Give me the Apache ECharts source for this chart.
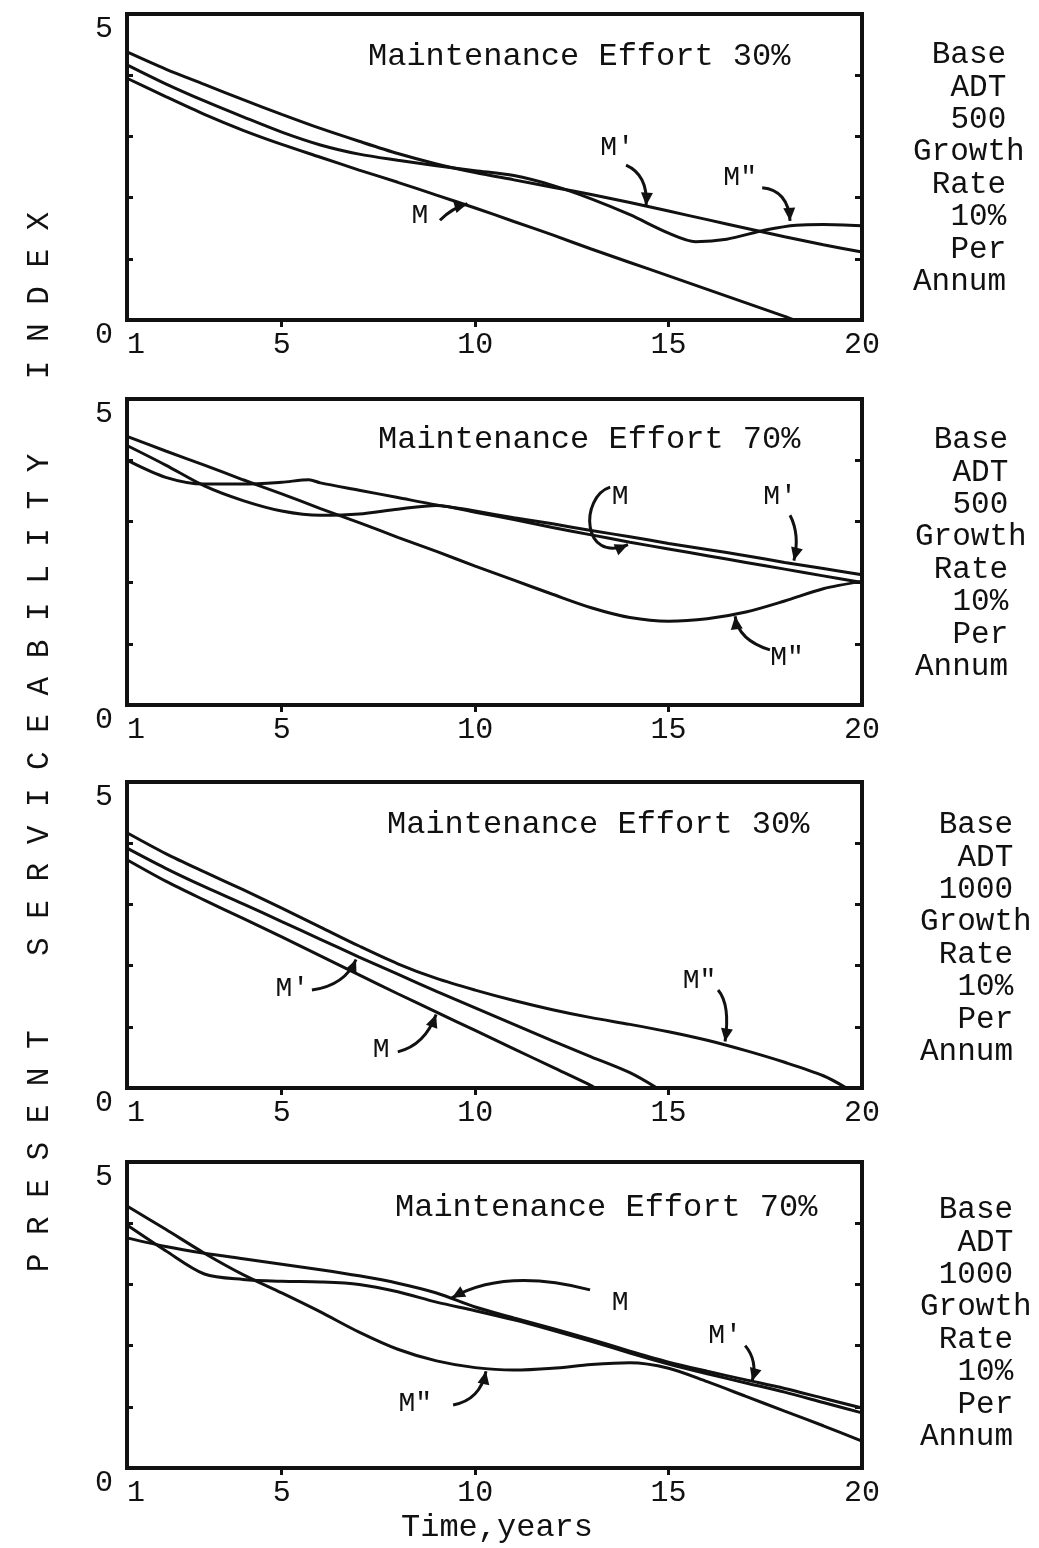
<!DOCTYPE html>
<html><head><meta charset="utf-8">
<script src="https://cdn.jsdelivr.net/npm/echarts@6/dist/echarts.min.js"></script>
<style>html,body{margin:0;padding:0;background:#fff}#c{width:1039px;height:1548px}</style>
</head><body><div id="c"></div>
<script>
// ---------- data (year, PSI) ----------
const xTickLabels = [1, 5, 10, 15, 20];
const yTickLabels = [0, 5];

// Panel 1: ADT 500, effort 30%
const p1_M  = [[1,3.95],[2,3.65],[3,3.36],[4,3.1],[5,2.87],[6,2.66],[7,2.45],[8,2.25],[9,2.04],[10,1.83],[11,1.61],[12,1.39],[13,1.16],[14,0.94],[15,0.72],[16,0.5],[17,0.28],[18,0.06],[18.25,0]];
const p1_M1 = [[1,4.38],[2,4.1],[3,3.85],[4,3.6],[5,3.36],[6,3.13],[7,2.92],[8,2.72],[9,2.55],[10,2.41],[11,2.29],[12,2.17],[13,2.05],[14,1.92],[15,1.78],[16,1.64],[17,1.5],[18,1.36],[19,1.23],[20,1.11]];
const p1_M2 = [[1,4.17],[2,3.86],[3,3.58],[4,3.32],[5,3.07],[6,2.86],[7,2.71],[8,2.61],[9,2.52],[10,2.44],[11,2.36],[12,2.2],[13,1.98],[14,1.72],[15,1.42],[15.7,1.28],[16.5,1.32],[17.5,1.47],[18.3,1.55],[19,1.56],[20,1.54]];

// Panel 2: ADT 500, effort 70%
const p2_M  = [[1,4.24],[2,3.92],[3,3.58],[4,3.34],[5,3.17],[6,3.1],[7,3.12],[8,3.2],[9,3.26],[10,3.15],[11,3.03],[12,2.9],[13,2.78],[14,2.66],[15,2.55],[16,2.44],[17,2.33],[18,2.22],[19,2.11],[20,2.0]];
const p2_M1 = [[1,4.0],[2,3.72],[3,3.61],[4,3.61],[5,3.64],[5.7,3.68],[6,3.63],[7,3.51],[8,3.39],[9,3.27],[10,3.17],[11,3.06],[12,2.96],[13,2.85],[14,2.75],[15,2.64],[16,2.54],[17,2.44],[18,2.33],[19,2.23],[20,2.13]];
const p2_M2 = [[1,4.39],[2,4.15],[3,3.92],[4,3.68],[5,3.45],[6,3.21],[7,2.98],[8,2.74],[9,2.51],[10,2.27],[11,2.04],[12,1.81],[13,1.59],[14,1.43],[15,1.37],[16,1.41],[17,1.52],[18,1.7],[19,1.9],[20,2.02]];

// Panel 3: ADT 1000, effort 30%
const p3_M  = [[1,3.73],[2,3.38],[3,3.07],[4,2.77],[5,2.47],[6,2.16],[7,1.85],[8,1.54],[9,1.24],[10,0.94],[11,0.64],[12,0.34],[13,0.04],[13.1,0]];
const p3_M1 = [[1,3.92],[2,3.59],[3,3.29],[4,3.01],[5,2.72],[6,2.43],[7,2.14],[8,1.86],[9,1.58],[10,1.31],[11,1.04],[12,0.77],[13,0.51],[14,0.25],[14.7,0]];
const p3_M2 = [[1,4.17],[2,3.83],[3,3.53],[4,3.24],[5,2.94],[6,2.63],[7,2.32],[8,2.03],[9,1.79],[10,1.6],[11,1.43],[12,1.28],[13,1.15],[14,1.04],[15,0.92],[16,0.78],[17,0.61],[18,0.42],[19,0.2],[19.6,0]];

// Panel 4: ADT 1000, effort 70%
const p4_M  = [[1,3.97],[2,3.55],[3,3.17],[4,3.08],[5,3.05],[6,3.04],[7,3.0],[8,2.88],[9,2.71],[10,2.57],[11,2.42],[12,2.25],[13,2.07],[14,1.88],[15,1.7],[16,1.54],[17,1.39],[18,1.24],[19,1.07],[20,0.9]];
const p4_M1 = [[1,3.76],[2,3.62],[3,3.51],[4,3.42],[5,3.33],[6,3.24],[7,3.14],[8,3.02],[9,2.86],[10,2.63],[11,2.45],[12,2.28],[13,2.1],[14,1.91],[15,1.73],[16,1.58],[17,1.44],[18,1.3],[19,1.14],[20,0.98]];
const p4_M2 = [[1,4.28],[2,3.9],[3,3.51],[4,3.16],[5,2.86],[6,2.55],[7,2.22],[8,1.94],[9,1.75],[10,1.64],[11,1.6],[12,1.63],[13,1.69],[14,1.72],[15,1.63],[16,1.41],[17,1.17],[18,0.93],[19,0.69],[20,0.44]];

const panelTitles = ['Maintenance Effort 30%','Maintenance Effort 70%','Maintenance Effort 30%','Maintenance Effort 70%'];
const sideText = [
  [' Base','  ADT','  500','Growth',' Rate','  10%','  Per','Annum'],
  [' Base','  ADT','  500','Growth',' Rate','  10%','  Per','Annum'],
  [' Base','  ADT',' 1000','Growth',' Rate','  10%','  Per','Annum'],
  [' Base','  ADT',' 1000','Growth',' Rate','  10%','  Per','Annum']
];
const yAxisTitle = 'P R E S E N T    S E R V I C E A B I L I T Y    I N D E X';
const xAxisTitle = 'Time,years';

// curve labels: [panel, text, x, y] and arrows [panel, start, ctrl1, ctrl2|null, tip] in data coords
const curveLabels = [
  [0,"M'",13.67,2.81],[0,'M"',16.85,2.32],[0,'M',8.57,1.70],
  [1,'M',13.75,3.40],[1,"M'",17.88,3.40],[1,'M"',18.06,0.78],
  [2,"M'",5.27,1.63],[2,'M',7.57,0.62],[2,'M"',15.8,1.76],
  [3,'M',13.75,2.70],[3,"M'",16.46,2.17],[3,'M"',8.45,1.06]
];
const arrows = [
  [0,[13.9,2.53],[14.47,2.37],null,[14.42,1.87]],
  [0,[17.42,2.16],[18.09,2.12],null,[18.14,1.62]],
  [0,[9.09,1.63],[9.4,1.83],null,[9.8,1.9]],
  [1,[13.49,3.56],[12.7,3.4],[12.75,2.3],[13.95,2.62]],
  [1,[18.14,3.10],[18.4,2.78],null,[18.24,2.36]],
  [1,[17.62,0.90],[16.8,1.06],null,[16.72,1.45]],
  [2,[5.78,1.6],[6.64,1.68],null,[6.92,2.1]],
  [2,[8.0,0.59],[8.7,0.70],null,[8.99,1.2]],
  [2,[16.28,1.6],[16.6,1.36],null,[16.46,0.76]],
  [3,[12.97,2.91],[10.77,3.27],null,[9.4,2.78]],
  [3,[16.98,2.0],[17.31,1.75],null,[17.16,1.42]],
  [3,[9.43,1.03],[10.13,1.11],null,[10.28,1.58]]
];

// ---------- layout ----------
const FONT = '"Liberation Mono","Courier New",monospace';
const INK = '#111';
const gridTops = [14, 399, 782, 1162];
const GH = 306, GL = 127, GW = 735;
const titlePos = [[368,57],[378,440],[387,825],[395,1208]];
const sidePos = [[913,55],[915,440],[920,825],[920,1210]];
const panelData = [[p1_M,p1_M1,p1_M2],[p2_M,p2_M1,p2_M2],[p3_M,p3_M1,p3_M2],[p4_M,p4_M1,p4_M2]];

const grids = [], xAxes = [], yAxes = [], series = [];
gridTops.forEach((t, i) => {
  grids.push({left: GL, top: t, width: GW, height: GH, show: true, borderColor: INK, borderWidth: 4, backgroundColor: 'transparent'});
  xAxes.push({gridIndex: i, type: 'value', min: 1, max: 20,
    axisLine: {show: false}, splitLine: {show: false},
    axisTick: {show: true, customValues: [5,10,15], length: 7, lineStyle: {color: INK, width: 3}},
    axisLabel: {customValues: xTickLabels, fontFamily: FONT, fontSize: 30, color: INK, margin: 10, alignMinLabel: 'left'}});
  yAxes.push({gridIndex: i, type: 'value', min: 0, max: 5, position: 'left',
    axisLine: {show: false}, splitLine: {show: false},
    axisTick: {show: true, inside: true, customValues: [1,2,3,4], length: 6, lineStyle: {color: INK, width: 3}},
    axisLabel: {customValues: yTickLabels, fontFamily: FONT, fontSize: 30, color: INK, margin: 14, verticalAlign: 'top'}});
  yAxes.push({gridIndex: i, type: 'value', min: 0, max: 5, position: 'right',
    axisLine: {show: false}, splitLine: {show: false},
    axisTick: {show: true, inside: true, customValues: [1,2,3,4], length: 7, lineStyle: {color: INK, width: 3}},
    axisLabel: {show: false}});
  panelData[i].forEach((d) => {
    series.push({type: 'line', xAxisIndex: i, yAxisIndex: 2*i, data: d, showSymbol: false,
      smooth: 0.3, lineStyle: {color: INK, width: 3}, silent: true, z: 3});
  });
});

const chart = echarts.init(document.getElementById('c'), null, {renderer: 'canvas'});
chart.setOption({
  animation: false, backgroundColor: '#fff',
  grid: grids, xAxis: xAxes, yAxis: yAxes, series: series
});

// ---------- annotations ----------
const g = [];
panelTitles.forEach((s, i) => g.push({type: 'text', x: titlePos[i][0], y: titlePos[i][1],
  style: {text: s, fontFamily: FONT, fontSize: 32, fill: INK, textVerticalAlign: 'middle', textAlign: 'left'}}));
const CW = 18.75, LH = 32.4;
sideText.forEach((lines, i) => lines.forEach((ln, j) => {
  const lead = ln.length - ln.trimStart().length;
  g.push({type: 'text', x: sidePos[i][0] + lead*CW, y: sidePos[i][1] + j*LH,
    style: {text: ln.trim(), fontFamily: FONT, fontSize: 31, fill: INK, textVerticalAlign: 'middle', textAlign: 'left'}});
}));
g.push({type: 'text', x: 40, y: 742, rotation: Math.PI/2,
  style: {text: yAxisTitle, fontFamily: FONT, fontSize: 31, fill: INK, textAlign: 'center', textVerticalAlign: 'middle'}});
g.push({type: 'text', x: 497, y: 1528,
  style: {text: xAxisTitle, fontFamily: FONT, fontSize: 32, fill: INK, textAlign: 'center', textVerticalAlign: 'middle'}});

const px = (i, p) => chart.convertToPixel({gridIndex: i}, p);
curveLabels.forEach(([i, s, x, y]) => {
  const p = px(i, [x, y]);
  g.push({type: 'text', x: p[0], y: p[1], style: {text: s, fontFamily: FONT, fontSize: 28, fill: INK, textAlign: 'center', textVerticalAlign: 'middle'}});
});
arrows.forEach(([i, s, c1, c2, e]) => {
  const S = px(i, s), C1 = px(i, c1), E = px(i, e);
  const shape = {x1: S[0], y1: S[1], x2: E[0], y2: E[1], cpx1: C1[0], cpy1: C1[1]};
  let last = C1;
  if (c2) { const C2 = px(i, c2); shape.cpx2 = C2[0]; shape.cpy2 = C2[1]; last = C2; }
  g.push({type: 'bezierCurve', shape: shape, style: {stroke: INK, lineWidth: 3, fill: null}, z: 10});
  const ang = Math.atan2(E[1]-last[1], E[0]-last[0]);
  const L = 13, W = 6;
  const bx = E[0] - L*Math.cos(ang), by = E[1] - L*Math.sin(ang);
  const nx = -Math.sin(ang), ny = Math.cos(ang);
  g.push({type: 'polygon', shape: {points: [[E[0], E[1]], [bx + W*nx, by + W*ny], [bx - W*nx, by - W*ny]]},
    style: {fill: INK}, z: 10});
});
chart.setOption({graphic: g});
</script></body></html>
